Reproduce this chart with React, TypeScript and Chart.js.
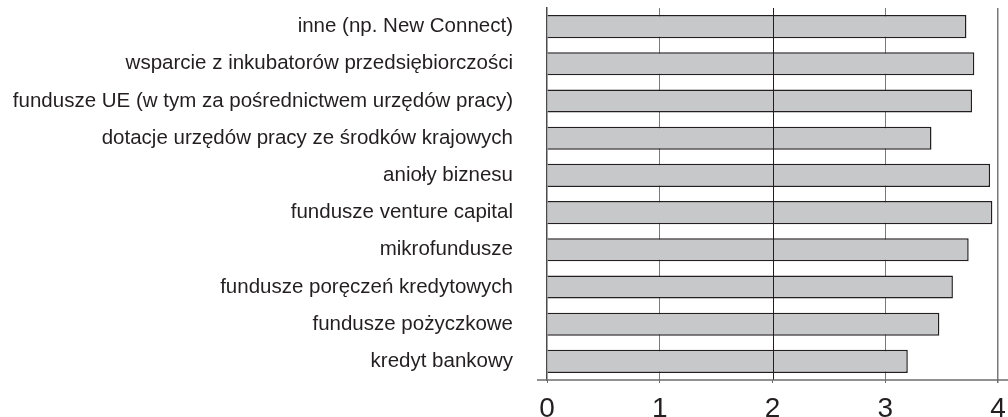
import React, { useEffect, useRef } from "react";
import { Chart, registerables } from "chart.js";
Chart.register(...registerables);

const categories = [
  "inne (np. New Connect)",
  "wsparcie z inkubatorów przedsiębiorczości",
  "fundusze UE (w tym za pośrednictwem urzędów pracy)",
  "dotacje urzędów pracy ze środków krajowych",
  "anioły biznesu",
  "fundusze venture capital",
  "mikrofundusze",
  "fundusze poręczeń kredytowych",
  "fundusze pożyczkowe",
  "kredyt bankowy",
];
const values = [3.72, 3.79, 3.77, 3.41, 3.93, 3.95, 3.74, 3.6, 3.48, 3.2];
const xTicks = [0, 1, 2, 3, 4];

const FONT = "'Liberation Sans', Arial, sans-serif";
const TEXT = "#231f20";

export default function App() {
  const ref = useRef<HTMLCanvasElement>(null);
  useEffect(() => {
    if (!ref.current) return;
    const overlay = {
      id: "overlay",
      afterDatasetsDraw(chart: any) {
        const { ctx, chartArea, scales } = chart;
        const x = scales.x.getPixelForValue(2);
        ctx.save();
        ctx.strokeStyle = TEXT;
        ctx.lineWidth = 1;
        ctx.beginPath();
        ctx.moveTo(Math.round(x) + 0.5, chartArea.top);
        ctx.lineTo(Math.round(x) + 0.5, chartArea.bottom);
        ctx.stroke();
        ctx.restore();
      },
      afterDraw(chart: any) {
        const { ctx, chartArea } = chart;
        ctx.save();
        ctx.strokeStyle = "#6d6d6d";
        ctx.lineWidth = 1.5;
        ctx.beginPath();
        ctx.moveTo(chartArea.left - 10, chartArea.bottom);
        ctx.lineTo(chart.width, chartArea.bottom);
        ctx.stroke();
        ctx.restore();
      },
    };
    const gridColor = (c: any) => {
      const v = c.tick ? c.tick.value : 0;
      if (v === 0 || v === 2) return "rgba(0,0,0,0)";
      return "#7a7a7a";
    };
    const noPad = (s: any) => {
      s.paddingTop = 0;
      s.paddingBottom = 0;
      s.paddingLeft = 0;
      s.paddingRight = 0;
    };
    const chart = new Chart(ref.current, {
      type: "bar",
      data: {
        labels: categories,
        datasets: [
          {
            data: values,
            backgroundColor: "#c7c8ca",
            borderColor: TEXT,
            borderWidth: 1.5,
            barPercentage: 0.62,
            categoryPercentage: 1,
          },
        ],
      },
      options: {
        indexAxis: "y",
        responsive: false,
        animation: false,
        layout: { padding: { top: 8, right: 10, left: 0, bottom: 0 } },
        plugins: { legend: { display: false }, tooltip: { enabled: false } },
        scales: {
          x: {
            min: 0,
            max: 4,
            afterBuildTicks: (axis: any) => {
              axis.ticks = xTicks.map((v) => ({ value: v }));
            },
            grid: {
              color: gridColor,
              lineWidth: (c: any) => (c.tick && c.tick.value === 4 ? 1.5 : 1),
              drawTicks: true,
              tickLength: 3,
              tickColor: "#6d6d6d",
            },
            border: { display: false },
            ticks: {
              font: { family: FONT, size: 28 },
              color: TEXT,
              padding: 9,
              maxRotation: 0,
            },
            afterFit: (s: any) => {
              s.height = 37;
              noPad(s);
            },
          },
          y: {
            grid: { display: false, drawTicks: true, tickLength: 34, tickColor: "rgba(0,0,0,0)" },
            border: { color: "#4a4a4a", width: 1.5 },
            ticks: {
              font: { family: FONT, size: 20.5 },
              color: TEXT,
              padding: 0,
            },
            afterFit: (s: any) => {
              s.width = 547;
              noPad(s);
            },
          },
        },
      },
      plugins: [overlay],
    } as any);
    return () => chart.destroy();
  }, []);
  return (
    <div style={{ position: "absolute", left: 0, top: 0, width: 1008, height: 417, background: "#fff" }}>
      <canvas ref={ref} width={1008} height={417} />
    </div>
  );
}
